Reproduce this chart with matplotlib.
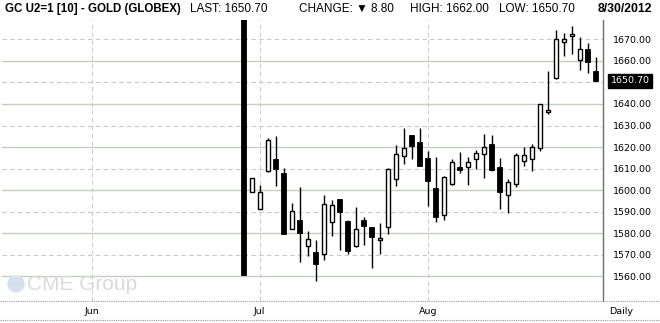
import numpy as np
import pandas as pd
import matplotlib
matplotlib.use("Agg")
import matplotlib.pyplot as plt
import matplotlib.transforms as mtransforms
from matplotlib.lines import Line2D
from matplotlib.patches import Ellipse

# daily OHLC (GC U2, Jun 28 - Aug 30 2012)
dates = ["2012-06-28", "2012-06-29",
         "2012-07-02", "2012-07-03", "2012-07-05", "2012-07-06",
         "2012-07-09", "2012-07-10", "2012-07-11", "2012-07-12", "2012-07-13",
         "2012-07-16", "2012-07-17", "2012-07-18", "2012-07-19", "2012-07-20",
         "2012-07-23", "2012-07-24", "2012-07-25", "2012-07-26", "2012-07-27",
         "2012-07-30", "2012-07-31", "2012-08-01", "2012-08-02", "2012-08-03",
         "2012-08-06", "2012-08-07", "2012-08-08", "2012-08-09", "2012-08-10",
         "2012-08-13", "2012-08-14", "2012-08-15", "2012-08-16", "2012-08-17",
         "2012-08-20", "2012-08-21", "2012-08-22", "2012-08-23", "2012-08-24",
         "2012-08-27", "2012-08-28", "2012-08-29", "2012-08-30"]
opens = [1700.0, 1599.3,
         1591.1, 1609.1, 1614.3, 1607.8,
         1582.1, 1586.0, 1573.9, 1571.2, 1570.2,
         1585.1, 1595.8, 1585.5, 1574.0, 1586.0,
         1582.8, 1576.7, 1582.8, 1605.0, 1615.7,
         1625.5, 1622.2, 1614.8, 1600.9, 1588.4,
         1602.8, 1610.9, 1610.7, 1614.5, 1616.8,
         1621.5, 1610.9, 1597.8, 1602.8, 1613.4,
         1614.6, 1619.6, 1636.1, 1652.1, 1668.6,
         1671.6, 1660.2, 1665.3, 1655.5]
highs = [1700.0, 1605.8,
         1602.4, 1624.2, 1625.1, 1610.1,
         1594.1, 1601.5, 1581.1, 1576.6, 1597.8,
         1595.4, 1596.0, 1586.2, 1592.2, 1587.7,
         1583.0, 1584.8, 1610.4, 1620.8, 1628.9,
         1625.8, 1628.9, 1618.2, 1615.4, 1606.5,
         1614.5, 1617.7, 1615.4, 1618.5, 1626.1,
         1625.4, 1615.0, 1605.3, 1617.3, 1619.9,
         1621.2, 1640.1, 1655.2, 1674.4, 1673.1,
         1676.2, 1671.1, 1668.1, 1662.0]
lows = [1560.5, 1599.0,
        1591.0, 1608.6, 1602.1, 1579.8,
        1582.0, 1566.8, 1569.6, 1558.0, 1567.4,
        1578.7, 1572.2, 1570.2, 1573.8, 1574.3,
        1564.0, 1570.2, 1579.5, 1602.1, 1612.3,
        1614.6, 1611.0, 1592.4, 1585.4, 1586.0,
        1602.5, 1607.8, 1602.5, 1609.8, 1605.6,
        1609.0, 1591.2, 1589.6, 1601.3, 1611.1,
        1608.7, 1618.1, 1635.5, 1651.7, 1662.4,
        1663.0, 1656.0, 1654.6, 1650.7]
closes = [1560.5, 1605.5,
          1599.0, 1623.1, 1610.0, 1579.8,
          1590.2, 1580.3, 1577.2, 1565.9, 1593.4,
          1593.0, 1590.0, 1571.5, 1581.8, 1583.5,
          1578.0, 1577.7, 1609.7, 1616.6, 1619.4,
          1620.3, 1611.1, 1604.0, 1587.4, 1606.2,
          1613.1, 1609.3, 1612.9, 1617.3, 1620.1,
          1609.2, 1598.9, 1603.7, 1616.3, 1616.3,
          1619.9, 1640.1, 1637.3, 1670.0, 1670.0,
          1672.5, 1665.6, 1659.4, 1650.7]

month_starts = ["2012-06-01", "2012-07-02", "2012-08-01"]
month_labels = ["Jun", "Jul", "Aug"]
price_ticks = [1560, 1570, 1580, 1590, 1600, 1610, 1620, 1630, 1640, 1650, 1660, 1670]
last_price = 1650.70

# trading-day axis (weekends and exchange holidays removed)
cal = pd.bdate_range("2012-05-14", "2012-08-31")
cal = cal[~cal.isin(pd.to_datetime(["2012-05-28", "2012-07-04"]))]
pos = {d: i for i, d in enumerate(cal)}
x = np.array([pos[pd.Timestamp(d)] for d in dates])
xm = [pos[pd.Timestamp(d)] for d in month_starts]

W, H = 660, 323
fig = plt.figure(figsize=(W / 100, H / 100), dpi=100)
fig.patch.set_facecolor("white")
ax = fig.add_axes([2 / W, (H - 301) / H, 601 / W, 281 / H])

x_last = x[-1]
ax.set_xlim(x_last - 74.2, x_last + 0.91)
ax.set_ylim(1548.5, 1679.0)

# grid: alternating dashed / solid horizontal lines
for i, v in enumerate(price_ticks):
    if i % 2 == 0:
        ax.axhline(v, color="#c4cec0", lw=1.0, zorder=0)
    else:
        ax.axhline(v, color="#c8c8c8", lw=0.8, ls=(0, (4, 3)), zorder=0)
for m in xm:
    ax.axvline(m, color="#cccccc", lw=0.8, ls=(0, (4, 3)), zorder=0)

o = np.array(opens)
c = np.array(closes)
up = c >= o
ax.vlines(x, lows, highs, color="black", lw=1.0, zorder=2)
ax.bar(x[up], (c - o)[up], bottom=o[up], width=0.52, facecolor="white",
       edgecolor="black", linewidth=1.0, zorder=3)
ax.bar(x[~up], (o - c)[~up], bottom=c[~up], width=0.62, facecolor="black",
       edgecolor="black", linewidth=0.6, zorder=3)

# axes styling
for s in ["top", "left", "bottom"]:
    ax.spines[s].set_visible(False)
ax.spines["right"].set_color("#707070")
ax.spines["right"].set_linewidth(1.0)
ax.yaxis.tick_right()
ax.set_yticks(price_ticks)
ax.set_yticklabels(["" if v == 1650 else "%.2f" % v for v in price_ticks])
ax.tick_params(axis="y", length=0, pad=7, labelsize=6.8, labelcolor="black")
ax.set_xticks(xm)
ax.set_xticklabels(month_labels)
ax.tick_params(axis="x", length=0, pad=4, labelsize=6.8)
for lab in ax.get_yticklabels() + ax.get_xticklabels():
    lab.set_family("DejaVu Sans")

# last price marker on the price axis
trans = mtransforms.blended_transform_factory(ax.transAxes, ax.transData)
ax.text(1.013, last_price, "%.2f" % last_price, transform=trans, color="white",
        fontsize=6.8, va="center", ha="left", family="DejaVu Sans", zorder=5,
        clip_on=False,
        bbox=dict(boxstyle="square,pad=0.25", facecolor="black", edgecolor="black"))

# bottom date row
for yy in [301, 320]:
    fig.add_artist(Line2D([0, 1], [(H - yy) / H] * 2, color="#999999", lw=0.8,
                          ls=(0, (1, 1))))
fig.text(621 / W, (H - 311) / H, "Daily", fontsize=6.8, ha="center", va="center",
         family="DejaVu Sans")

# faint watermark
fig.add_artist(Ellipse((16 / W, (H - 284) / H), 17 / W, 17 / H,
                       transform=fig.transFigure, facecolor="#d6e0ea",
                       edgecolor="#e2e8ee", lw=0.5))
fig.text(27 / W, (H - 284) / H, "CME Group", fontsize=15, color="#dadada",
         family=["Liberation Sans", "DejaVu Sans"], va="center", ha="left")

# header line
yh = (H - 9) / H
regular = ["Liberation Sans", "DejaVu Sans"]
fig.text(5 / W, yh, "GC U2=1 [10] - GOLD (GLOBEX)", fontsize=8.3, fontweight="bold",
         family=regular, va="center", ha="left")
fig.text(190 / W, yh, "LAST: 1650.70", fontsize=8.5, family=regular, va="center")
fig.text(299 / W, yh, "CHANGE: \u25bc 8.80", fontsize=8.5, family=regular, va="center")
fig.text(410 / W, yh, "HIGH: 1662.00", fontsize=8.5, family=regular, va="center")
fig.text(499 / W, yh, "LOW: 1650.70", fontsize=8.5, family=regular, va="center")
fig.text(652 / W, yh, "8/30/2012", fontsize=8.8, fontweight="bold", family=regular,
         va="center", ha="right")

fig.savefig("out.png", dpi=100)
